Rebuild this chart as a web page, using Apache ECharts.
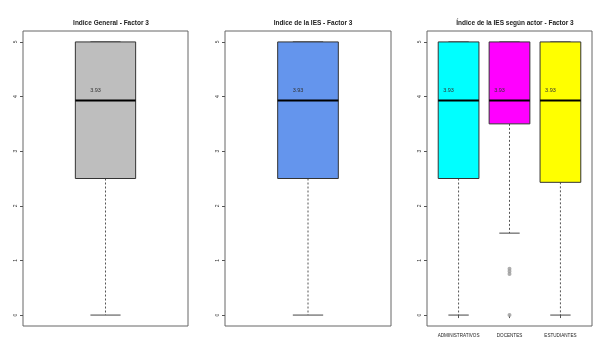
<!DOCTYPE html>
<html style="height: 100%">
<head>
    <meta charset="utf-8">
</head>
<body style="height: 100%; margin: 0; background: #fff">
    <div id="container" style="width: 609px; height: 351px"></div>
    <script type="text/javascript" src="https://cdn.jsdelivr.net/npm/echarts@6/dist/echarts.min.js"></script>
    <script type="text/javascript">
        // titles of the three panels
        var titulos = ['Indice General - Factor 3', 'Indice de la IES - Factor 3', 'Índice de la IES según actor - Factor 3'];
        // boxes: [min, q1, mediana, q3, max]
        var general = [[0, 2.5, 3.93, 5, 5]];
        var ies = [[0, 2.5, 3.93, 5, 5]];
        var actores = ['ADMINISTRATIVOS', 'DOCENTES', 'ESTUDIANTES'];
        var porActor = [
            [0, 2.5, 3.93, 5, 5],
            [1.5, 3.5, 3.93, 5, 5],
            [0, 2.43, 3.93, 5, 5]
        ];
        // outliers for DOCENTES (position, value)
        var atipicos = [[2, 0.85], [2, 0.8], [2, 0.75], [2, 0]];
        var yTicks = [0, 1, 2, 3, 4, 5];

        var colores = [['#BEBEBE'], ['#6495ED'], ['#00FFFF', '#FF00FF', '#FFFF00']];
        var font = 'Liberation Sans, Arial, sans-serif';

        var dom = document.getElementById('container');
        var myChart = echarts.init(dom);

        function toData(boxes) {
            return boxes.map(function (b, i) {
                return [i + 1].concat(b);
            });
        }

        function renderBox(halfW, cols) {
            return function (params, api) {
                var x = api.value(0);
                var mn = api.value(1), q1 = api.value(2), med = api.value(3), q3 = api.value(4), mx = api.value(5);
                var pL = api.coord([x - halfW, q3]);
                var pR = api.coord([x + halfW, q1]);
                var c = api.coord([x, med]);
                var pMin = api.coord([x, mn]);
                var pMax = api.coord([x, mx]);
                var pQ1 = api.coord([x, q1]);
                var pQ3 = api.coord([x, q3]);
                var capW = (pR[0] - pL[0]) / 4;
                var dash = { stroke: '#555', lineWidth: 1, lineDash: [2, 2] };
                var solid = { stroke: '#444', lineWidth: 1 };
                return {
                    type: 'group',
                    children: [
                        { type: 'line', shape: { x1: c[0], y1: pQ1[1], x2: c[0], y2: pMin[1] }, style: dash },
                        { type: 'line', shape: { x1: c[0], y1: pQ3[1], x2: c[0], y2: pMax[1] }, style: dash },
                        { type: 'line', shape: { x1: c[0] - capW, y1: pMin[1], x2: c[0] + capW, y2: pMin[1] }, style: solid },
                        { type: 'line', shape: { x1: c[0] - capW, y1: pMax[1], x2: c[0] + capW, y2: pMax[1] }, style: solid },
                        {
                            type: 'rect',
                            shape: { x: pL[0], y: pL[1], width: pR[0] - pL[0], height: pR[1] - pL[1] },
                            style: { fill: cols[params.dataIndex], stroke: '#333', lineWidth: 1 }
                        },
                        { type: 'line', shape: { x1: pL[0], y1: c[1], x2: pR[0], y2: c[1] }, style: { stroke: '#000', lineWidth: 2 } },
                        {
                            type: 'text',
                            style: {
                                text: med.toFixed(2), x: c[0] - 10, y: c[1] - 10,
                                align: 'center', verticalAlign: 'middle',
                                fontSize: 5.5, fontFamily: font, fill: '#333'
                            }
                        }
                    ]
                };
            };
        }

        var grids = [
            { left: 23, top: 31, width: 165, height: 295 },
            { left: 225, top: 31, width: 166, height: 295 },
            { left: 427, top: 31, width: 165, height: 295 }
        ];
        var titleX = [106, 308, 510];

        var yAxes = grids.map(function (g, i) {
            return {
                type: 'value', gridIndex: i, min: -0.2, max: 5.2,
                axisLine: { show: false },
                splitLine: { show: false },
                axisTick: { show: true, length: 3, customValues: yTicks, lineStyle: { color: '#555' } },
                axisLabel: { customValues: yTicks, rotate: 90, fontSize: 5, margin: 5, color: '#333', fontFamily: font }
            };
        });

        var xAxes = [
            { type: 'value', gridIndex: 0, min: 0.48, max: 1.52, show: false },
            { type: 'value', gridIndex: 1, min: 0.48, max: 1.52, show: false },
            {
                type: 'value', gridIndex: 2, min: 0.38, max: 3.62,
                axisLine: { show: false },
                splitLine: { show: false },
                axisTick: { show: true, length: 3, customValues: [1, 2, 3], lineStyle: { color: '#555' } },
                axisLabel: {
                    customValues: [1, 2, 3], fontSize: 4.6, margin: 7, color: '#222', fontFamily: font,
                    formatter: function (v) { return actores[Math.round(v) - 1]; }
                }
            }
        ];

        var option = {
            animation: false,
            backgroundColor: '#fff',
            title: titulos.map(function (t, i) {
                return {
                    text: t, left: titleX[i], top: 15, textAlign: 'center',
                    textStyle: { fontSize: 6.5, fontWeight: 'bold', color: '#222', fontFamily: font }
                };
            }),
            grid: grids.map(function (g) {
                return Object.assign({ show: true, borderColor: '#666', borderWidth: 1, backgroundColor: 'transparent' }, g);
            }),
            xAxis: xAxes,
            yAxis: yAxes,
            series: [
                {
                    type: 'custom', xAxisIndex: 0, yAxisIndex: 0,
                    renderItem: renderBox(0.19, colores[0]),
                    encode: { x: 0, y: [1, 2, 3, 4, 5] },
                    data: toData(general)
                },
                {
                    type: 'custom', xAxisIndex: 1, yAxisIndex: 1,
                    renderItem: renderBox(0.19, colores[1]),
                    encode: { x: 0, y: [1, 2, 3, 4, 5] },
                    data: toData(ies)
                },
                {
                    type: 'custom', xAxisIndex: 2, yAxisIndex: 2,
                    renderItem: renderBox(0.4, colores[2]),
                    encode: { x: 0, y: [1, 2, 3, 4, 5] },
                    data: toData(porActor)
                },
                {
                    type: 'scatter', xAxisIndex: 2, yAxisIndex: 2,
                    symbol: 'emptyCircle', symbolSize: 2,
                    itemStyle: { color: '#999', borderColor: '#999', borderWidth: 0.6 },
                    data: atipicos
                }
            ]
        };

        myChart.setOption(option, true);
    </script>
</body>
</html>
